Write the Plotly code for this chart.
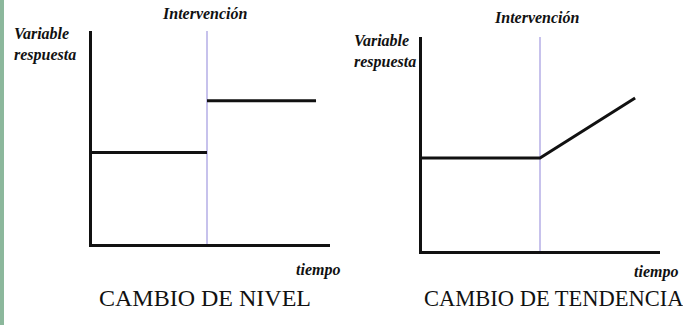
import plotly.graph_objects as go

W, H = 683, 325

# data (arbitrary units: time 0..10, response 0..10, intervention at t=5)
intervention = 5
nivel_t = [0, 5, None, 5, 9.74]
nivel_y = [4.3, 4.3, None, 6.73, 6.73]
tend_t = [0, 5, 9.03]
tend_y = [4.35, 4.35, 7.15]
y_top = 10

serif = "Liberation Serif, Times New Roman, serif"
black = "#111111"
purple = "#b4aee6"


def px_x(p):
    return p / W


def px_y(p):
    return 1 - p / H


fig = go.Figure()

# left panel: cambio de nivel
fig.add_trace(go.Scatter(x=[intervention, intervention], y=[0, y_top], mode="lines",
                         line=dict(color=purple, width=1.5), xaxis="x", yaxis="y"))
fig.add_trace(go.Scatter(x=nivel_t, y=nivel_y, mode="lines", connectgaps=False,
                         line=dict(color=black, width=3), xaxis="x", yaxis="y"))

# right panel: cambio de tendencia
fig.add_trace(go.Scatter(x=[intervention, intervention], y=[0, y_top], mode="lines",
                         line=dict(color=purple, width=1.5), xaxis="x2", yaxis="y2"))
fig.add_trace(go.Scatter(x=tend_t, y=tend_y, mode="lines",
                         line=dict(color=black, width=3), xaxis="x2", yaxis="y2"))

ax = dict(showgrid=False, zeroline=False, showticklabels=False, ticks="",
          showline=True, linecolor=black, linewidth=3, fixedrange=True)

fig.update_layout(
    width=W, height=H,
    margin=dict(l=0, r=0, t=0, b=0),
    paper_bgcolor="white", plot_bgcolor="white",
    showlegend=False,
    xaxis=dict(ax, domain=[px_x(92), px_x(330)], range=[0, 238 / 23], anchor="y"),
    yaxis=dict(ax, domain=[px_y(244), px_y(31)], range=[0, y_top], anchor="x"),
    xaxis2=dict(ax, domain=[px_x(422), px_x(660)], range=[0, 238 / 23.6], anchor="y2"),
    yaxis2=dict(ax, domain=[px_y(251), px_y(37)], range=[0, y_top], anchor="x2"),
)

# green strip on the left edge
fig.add_shape(type="rect", xref="paper", yref="paper", x0=0, x1=px_x(4), y0=0, y1=1,
              fillcolor="#8cb89c", line=dict(width=0), layer="below")

lab = dict(family=serif, size=16, color=black)


def note(text, x, y, xanchor="center", font=lab, align="left"):
    fig.add_annotation(text=text, x=px_x(x), y=px_y(y), xref="paper", yref="paper",
                       xanchor=xanchor, yanchor="middle", showarrow=False, font=font, align=align)


note("<b><i>Intervención</i></b>", 205, 13)
note("<b><i>Intervención</i></b>", 537, 18)
note("<b><i>Variable<br>respuesta</i></b>", 12, 45, xanchor="left")
note("<b><i>Variable<br>respuesta</i></b>", 352, 51, xanchor="left")
note("<b><i>tiempo</i></b>", 294, 270, xanchor="left")
note("<b><i>tiempo</i></b>", 632, 272, xanchor="left")

note("CAMBIO DE NIVEL", 205, 298, font=dict(family=serif, size=24, color=black))
note("CAMBIO DE TENDENCIA", 554, 298, font=dict(family=serif, size=22.5, color=black))

# drop the default 8px body margin so the figure fills the window
fig.write_html("out.html", config={"displayModeBar": False},
               post_script="document.body.style.margin='0';")
